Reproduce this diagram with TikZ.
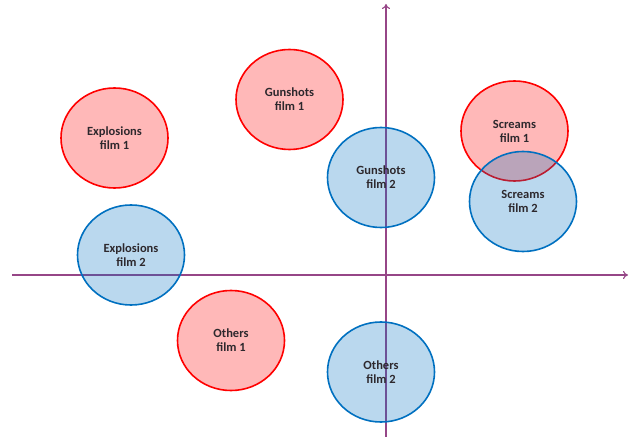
\documentclass[tikz,border=0pt]{standalone}
\usepackage{fontspec}
\setmainfont{Carlito}[BoldFont={Carlito Bold}]
\usetikzlibrary{shapes.geometric,arrows.meta}
\definecolor{axiscol}{RGB}{150,70,135}
\definecolor{redline}{RGB}{255,0,0}
\definecolor{blueline}{RGB}{0,112,192}
\definecolor{txt}{RGB}{45,40,45}
\tikzset{
  film/.style={ellipse, minimum width=107bp, minimum height=100bp, inner sep=0pt,
    line width=1.6bp, align=center, text=txt,
    font=\fontsize{12.5bp}{14bp}\selectfont\bfseries},
  filmone/.style={film, draw=redline, fill=redline, fill opacity=0.28, text opacity=1},
  filmtwo/.style={film, draw=blueline, fill=blueline, fill opacity=0.27, text opacity=1},
  axis/.style={draw=axiscol, line width=1.1bp, -{To[length=5bp,width=8bp]}}
}
\begin{document}
\begin{tikzpicture}[x=1bp,y=-1bp]
\useasboundingbox (0,0) rectangle (633,437);
\coordinate (hl) at (12,275);
\coordinate (hr) at (628,275);
\coordinate (vb) at (386,437);
\coordinate (vt) at (386,4);
\draw[axis] (hl) -- (hr);
\draw[axis] (vb) -- (vt);
\node[filmone] (exp1) at (114.5,138) {Explosions\\film 1};
\node[filmone] (gun1) at (289.5,99.5) {Gunshots\\film 1};
\node[filmone] (scr1) at (514.5,131) {Screams\\film 1};
\node[filmone] (oth1) at (231,340.5) {Others\\film 1};
\node[filmtwo] (exp2) at (131,255) {Explosions\\film 2};
\node[filmtwo] (gun2) at (381,177.5) {Gunshots\\film 2};
\node[filmtwo] (scr2) at (523,201.5) {Screams\\film 2};
\node[filmtwo] (oth2) at (381,372) {Others\\film 2};
\end{tikzpicture}
\end{document}
